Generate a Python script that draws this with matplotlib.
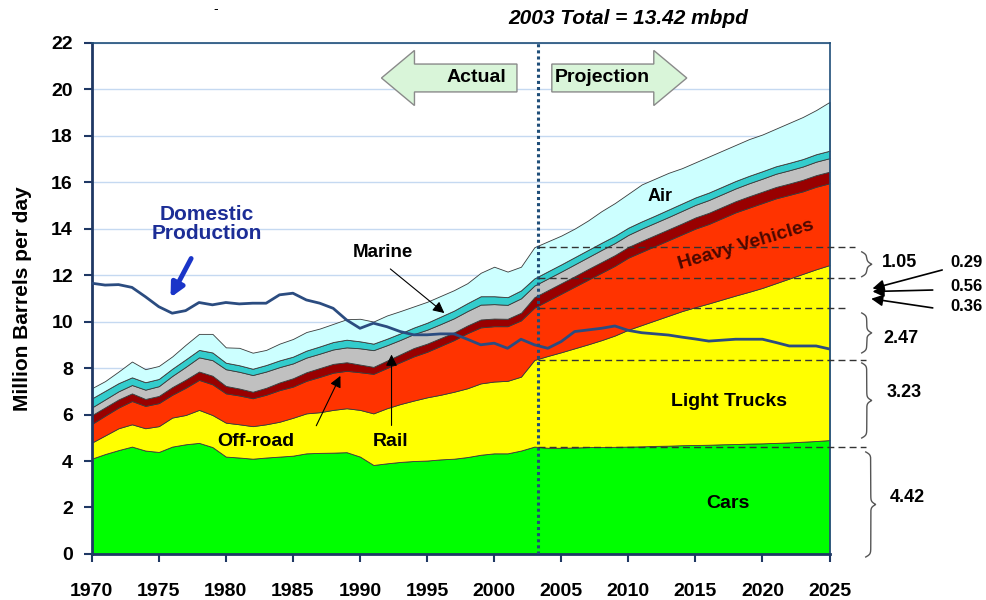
import numpy as np
import matplotlib.pyplot as plt
from matplotlib.patches import FancyArrow

plt.rcParams['font.family'] = ['Liberation Sans', 'DejaVu Sans']

# ---- data (million barrels per day) ----
years = list(range(1970, 2026))

cars = [4.10, 4.30, 4.47, 4.62, 4.45, 4.39, 4.62, 4.72, 4.78, 4.60,
        4.19, 4.15, 4.10, 4.15, 4.19, 4.23, 4.33, 4.35, 4.36, 4.38,
        4.19, 3.83, 3.90, 3.96, 4.00, 4.02, 4.07, 4.10, 4.17, 4.27,
        4.33, 4.33, 4.45, 4.62, 4.57, 4.57, 4.58, 4.60, 4.60, 4.61,
        4.62, 4.63, 4.65, 4.66, 4.68, 4.69, 4.70, 4.72, 4.73, 4.75,
        4.76, 4.78, 4.80, 4.83, 4.86, 4.90]

light_trucks = [0.69, 0.80, 0.94, 0.96, 0.96, 1.11, 1.25, 1.26, 1.42, 1.38,
                1.46, 1.43, 1.40, 1.43, 1.50, 1.63, 1.72, 1.75, 1.84, 1.89,
                2.01, 2.22, 2.37, 2.49, 2.60, 2.72, 2.78, 2.88, 2.96, 3.07,
                3.09, 3.12, 3.18, 3.73, 3.95, 4.11, 4.27, 4.42, 4.60, 4.79,
                5.03, 5.22, 5.40, 5.59, 5.77, 5.93, 6.08, 6.23, 6.39, 6.53,
                6.69, 6.87, 7.05, 7.22, 7.39, 7.53]

heavy_vehicles = [0.80, 0.85, 0.89, 1.00, 0.96, 0.99, 0.98, 1.17, 1.29, 1.32,
                  1.26, 1.24, 1.20, 1.27, 1.36, 1.34, 1.40, 1.52, 1.60, 1.61,
                  1.62, 1.70, 1.73, 1.80, 1.90, 1.96, 2.10, 2.22, 2.37, 2.41,
                  2.38, 2.35, 2.42, 2.25, 2.38, 2.52, 2.65, 2.78, 2.90, 3.00,
                  3.10, 3.15, 3.20, 3.25, 3.30, 3.38, 3.42, 3.50, 3.58, 3.62,
                  3.65, 3.65, 3.60, 3.55, 3.55, 3.52]

off_road = [0.38, 0.36, 0.35, 0.33, 0.30, 0.31, 0.33, 0.35, 0.36, 0.37,
            0.32, 0.30, 0.28, 0.30, 0.33, 0.36, 0.37, 0.38, 0.38, 0.37,
            0.33, 0.30, 0.32, 0.34, 0.36, 0.35, 0.34, 0.33, 0.33, 0.34,
            0.33, 0.32, 0.33, 0.45, 0.45, 0.45, 0.45, 0.46, 0.46, 0.46,
            0.46, 0.47, 0.47, 0.47, 0.47, 0.48, 0.48, 0.48, 0.48, 0.49,
            0.49, 0.49, 0.49, 0.50, 0.50, 0.50]

rail = [0.33, 0.34, 0.35, 0.36, 0.40, 0.42, 0.48, 0.55, 0.61, 0.67,
        0.72, 0.72, 0.72, 0.70, 0.66, 0.64, 0.63, 0.62, 0.62, 0.64,
        0.70, 0.72, 0.66, 0.62, 0.60, 0.60, 0.60, 0.61, 0.62, 0.64,
        0.62, 0.60, 0.62, 0.50, 0.50, 0.50, 0.51, 0.51, 0.52, 0.52,
        0.52, 0.53, 0.53, 0.53, 0.54, 0.54, 0.55, 0.55, 0.55, 0.56,
        0.56, 0.57, 0.57, 0.57, 0.58, 0.58]

marine = [0.39, 0.37, 0.35, 0.33, 0.32, 0.31, 0.31, 0.32, 0.32, 0.33,
          0.28, 0.28, 0.27, 0.28, 0.29, 0.29, 0.30, 0.31, 0.32, 0.33,
          0.30, 0.28, 0.28, 0.28, 0.28, 0.30, 0.32, 0.33, 0.34, 0.36,
          0.34, 0.33, 0.34, 0.31, 0.31, 0.31, 0.31, 0.31, 0.31, 0.31,
          0.31, 0.31, 0.31, 0.32, 0.32, 0.32, 0.32, 0.32, 0.32, 0.32,
          0.32, 0.32, 0.32, 0.32, 0.32, 0.32]

air = [0.44, 0.42, 0.50, 0.68, 0.56, 0.56, 0.53, 0.63, 0.69, 0.80,
       0.66, 0.75, 0.69, 0.65, 0.72, 0.76, 0.80, 0.77, 0.78, 0.88,
       0.97, 0.95, 1.00, 0.96, 0.91, 0.90, 0.89, 0.88, 0.86, 1.01,
       1.27, 1.10, 1.02, 1.34, 1.29, 1.24, 1.23, 1.27, 1.36, 1.41,
       1.46, 1.59, 1.59, 1.58, 1.52, 1.51, 1.55, 1.55, 1.55, 1.58,
       1.58, 1.62, 1.72, 1.81, 1.90, 2.10]

domestic_production = [11.65, 11.57, 11.59, 11.47, 11.07, 10.64, 10.36, 10.47, 10.82, 10.72,
                       10.82, 10.76, 10.79, 10.79, 11.15, 11.22, 10.93, 10.79, 10.57, 10.07,
                       9.71, 9.93, 9.78, 9.57, 9.43, 9.43, 9.47, 9.47, 9.24, 9.00,
                       9.07, 8.85, 9.24, 9.00, 8.85, 9.14, 9.57, 9.64, 9.71, 9.81,
                       9.62, 9.52, 9.47, 9.42, 9.33, 9.25, 9.16, 9.20, 9.24, 9.24,
                       9.24, 9.10, 8.95, 8.95, 8.95, 8.82]

share_labels = ['4.42', '3.23', '2.47', '1.05']
small_labels = ['0.29', '0.56', '0.36']

layer_colors = ['#00FF00', '#FFFF00', '#FF3300', '#990000', '#C0C0C0', '#33CCCC', '#CCFFFF']
split_year = 2003.3
navy = '#1F3864'


def draw_brace(ax, x, y0, y1, w, r=0.12):
    """Curly brace '}' from y0 to y1, tip pointing right."""
    y = np.linspace(y0, y1, 300)
    ym = (y0 + y1) / 2
    d = np.minimum(y - y0, y1 - y)
    dm = np.abs(y - ym)
    xs = x + (w / 2) * np.tanh(d / r) + (w / 2) * (1 - np.tanh(dm / r))
    ax.plot(xs, y, color='#555555', lw=1.0, clip_on=False, zorder=6)


fig = plt.figure(figsize=(9.86, 6.0), dpi=100)
ax = fig.add_axes([0.093, 0.0767, 0.7483, 0.8522])

ax.stackplot(years, cars, light_trucks, heavy_vehicles, off_road, rail, marine, air,
             colors=layer_colors, edgecolor='#3A3A3A', linewidth=0.6, zorder=2)

ax.plot(years, domestic_production, color='#2B4C80', lw=2.0, zorder=4)

# grid, axes
ax.set_xlim(1970, 2025)
ax.set_ylim(0, 22)
ax.set_xticks(range(1970, 2026, 5))
ax.set_yticks(range(0, 23, 2))
ax.yaxis.grid(True, color='#C5D9F1', lw=1.0, zorder=0)
ax.set_axisbelow(True)
for side in ['left', 'bottom']:
    ax.spines[side].set_color(navy)
    ax.spines[side].set_linewidth(2.0)
for side in ['top', 'right']:
    ax.spines[side].set_color('#1F4E79')
    ax.spines[side].set_linewidth(1.2)
ax.tick_params(axis='x', direction='out', length=6, width=1.5, color=navy, pad=15, labelsize=14)
ax.tick_params(axis='y', direction='out', length=5.5, width=1.5, color=navy, pad=8, labelsize=14)
for lab in ax.get_xticklabels() + ax.get_yticklabels():
    lab.set_fontweight('bold')
ax.set_ylabel('Million Barrels per day', fontsize=15, fontweight='bold', labelpad=14)

# actual / projection divider
ax.axvline(split_year, color='#1F4E79', lw=2.2, ls=(0, (1, 1)), zorder=5)

# dashed guides at 2003 layer boundaries
tops = np.cumsum([cars, light_trucks, heavy_vehicles, off_road, rail, marine, air], axis=0)
i03 = years.index(2003)
guide_levels = [tops[0][i03], tops[1][i03], tops[2][i03], tops[5][i03], tops[6][i03]]
guide_ends = [2027.7, 2027.7, 2026.2, 2026.9, 2026.9]
for lvl, xe in zip(guide_levels, guide_ends):
    ax.plot([split_year, xe], [lvl, lvl], color='#333333', lw=1.0, ls=(0, (5, 3)),
            clip_on=False, zorder=5)

# braces and values
brace_spans = [(-0.13, 4.39), (4.99, 8.22), (8.65, 10.37), (11.93, 13.0)]
brace_x = [2027.7, 2027.4, 2027.4, 2027.4]
label_pos = [(2030.8, 2.45), (2030.6, 6.93), (2030.3, 9.29), (2030.2, 12.52)]
for (y0, y1), bx, txt, (tx, ty) in zip(brace_spans, brace_x, share_labels, label_pos):
    draw_brace(ax, bx, y0, y1, 0.75)
    ax.text(tx, ty, txt, fontsize=13, fontweight='bold', ha='center', va='center')

small_text_y = [12.52, 11.49, 10.63]
arrow_tails = [(2033.6, 12.25), (2032.9, 11.36), (2032.9, 10.57)]
arrow_heads = [(2028.0, 11.39), (2028.0, 11.29), (2027.9, 11.0)]
for txt, ty, tail, head in zip(small_labels, small_text_y, arrow_tails, arrow_heads):
    ax.text(2035.2, ty, txt, fontsize=12, fontweight='bold', ha='center', va='center')
    ax.annotate('', xy=head, xytext=tail, annotation_clip=False,
                arrowprops=dict(arrowstyle='-|>', color='black', lw=1.2, mutation_scale=17))

# Actual / Projection block arrows
ax.add_patch(FancyArrow(2001.7, 20.48, -10.1, 0, width=1.2, head_width=2.37, head_length=2.46,
                        length_includes_head=True, facecolor='#D9F5D9', edgecolor='#8A8A8A',
                        lw=1.0, zorder=6))
ax.add_patch(FancyArrow(2004.3, 20.48, 10.06, 0, width=1.2, head_width=2.37, head_length=2.46,
                        length_includes_head=True, facecolor='#D9F5D9', edgecolor='#8A8A8A',
                        lw=1.0, zorder=6))
ax.text(1998.7, 20.48, 'Actual', fontsize=14, fontweight='bold', ha='center', va='center', zorder=7)
ax.text(2008.1, 20.48, 'Projection', fontsize=14, fontweight='bold', ha='center', va='center', zorder=7)

# category labels
ax.text(2012.4, 15.36, 'Air', fontsize=13, fontweight='bold', ha='center', va='center', zorder=7)
ax.text(2018.8, 13.3, 'Heavy Vehicles', fontsize=14, fontweight='bold', color='#4A0800',
        ha='center', va='center', rotation=16.5, zorder=7)
ax.text(2017.5, 6.54, 'Light Trucks', fontsize=14, fontweight='bold', ha='center', va='center', zorder=7)
ax.text(2017.4, 2.19, 'Cars', fontsize=14, fontweight='bold', ha='center', va='center', zorder=7)
ax.text(1982.2, 4.82, 'Off-road', fontsize=14, fontweight='bold', ha='center', va='center', zorder=7)
ax.text(1992.3, 4.82, 'Rail', fontsize=14, fontweight='bold', ha='center', va='center', zorder=7)
ax.text(1991.7, 12.95, 'Marine', fontsize=13.5, fontweight='bold', ha='center', va='center', zorder=7)
ax.text(1978.6, 14.2, 'Domestic\nProduction', fontsize=15, fontweight='bold', color='#1C2D96',
        ha='center', va='center', linespacing=1.05, zorder=7)

thin = dict(arrowstyle='-|>', color='black', lw=0.8, mutation_scale=17)
ax.annotate('', xy=(1996.45, 10.29), xytext=(1992.1, 12.34), arrowprops=thin, zorder=7)
ax.annotate('', xy=(1988.63, 7.77), xytext=(1986.65, 5.41), arrowprops=thin, zorder=7)
ax.annotate('', xy=(1992.35, 8.70), xytext=(1992.35, 5.41), arrowprops=thin, zorder=7)
ax.annotate('', xy=(1975.78, 10.93), xytext=(1977.51, 12.82), zorder=7,
            arrowprops=dict(arrowstyle='-|>', color='#1A35C8', lw=3.5, mutation_scale=20))

fig.text(0.637, 0.97, '2003 Total = 13.42 mbpd', fontsize=15, fontweight='bold',
         fontstyle='italic', ha='center', va='center')
fig.text(0.219, 0.985, '-', fontsize=10, ha='center', va='center')

fig.savefig('out.png', dpi=100)
